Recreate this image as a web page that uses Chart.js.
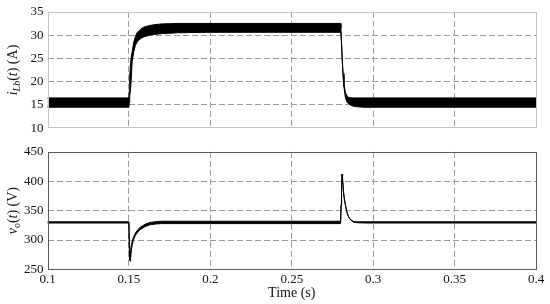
<!DOCTYPE html>
<html><head><meta charset="utf-8">
<script src="https://cdn.jsdelivr.net/npm/chart.js@4/dist/chart.umd.min.js"></script>
<style>
html,body{margin:0;padding:0;background:#fff;}
#wrap{position:relative;width:550px;height:304px;background:#fff;}
canvas{position:absolute;left:0;}
</style></head><body>
<div id="wrap">
<canvas id="c1" width="550" height="140" style="top:0;width:550px;height:140px"></canvas>
<canvas id="c2" width="550" height="164" style="top:140px;width:550px;height:164px"></canvas>
</div>
<script>
// ---- tick labels ----
const xTicks = [0.1, 0.15, 0.2, 0.25, 0.3, 0.35, 0.4];
const xTickLabels = ['0.1', '0.15', '0.2', '0.25', '0.3', '0.35', '0.4'];
const iTicks = [10, 15, 20, 25, 30, 35];
const iTickLabels = ['10', '15', '20', '25', '30', '35'];
const vTicks = [250, 300, 350, 400, 450];
const vTickLabels = ['250', '300', '350', '400', '450'];

// ---- inductor current i_Lb(t): ripple band (upper / lower envelope) ----
const tI = [0.1, 0.15, 0.1502, 0.1505, 0.151, 0.1515, 0.152, 0.153, 0.154, 0.155, 0.157, 0.159, 0.162, 0.165, 0.17, 0.175, 0.18, 0.2, 0.25, 0.28, 0.2802, 0.2806, 0.281, 0.2815, 0.282, 0.283, 0.284, 0.285, 0.287, 0.29, 0.295, 0.3, 0.4];
const iUpper = [16.5, 16.5, 18, 21, 24, 25.5, 26.5, 28.5, 29.7, 30.5, 31.2, 31.7, 32.0, 32.2, 32.4, 32.45, 32.5, 32.5, 32.5, 32.5, 31.4, 28.4, 25.0, 21.8, 19.6, 17.6, 16.9, 16.6, 16.5, 16.5, 16.5, 16.5, 16.5];
const iLower = [14.5, 14.5, 15.5, 17, 18.3, 21, 24.4, 26.5, 27.8, 28.5, 29.2, 29.6, 29.9, 30.1, 30.3, 30.4, 30.5, 30.6, 30.6, 30.6, 30.4, 27.9, 24.5, 21.3, 19.0, 16.4, 15.6, 15.2, 14.8, 14.6, 14.5, 14.5, 14.5];

// ---- output voltage v_o(t): upper / lower envelope ----
const tV = [0.1, 0.15, 0.1503, 0.1505, 0.1508, 0.151, 0.1515, 0.152, 0.153, 0.154, 0.155, 0.157, 0.16, 0.163, 0.167, 0.17, 0.175, 0.2, 0.25, 0.28, 0.2803, 0.2806, 0.2809, 0.2812, 0.2818, 0.2824, 0.283, 0.284, 0.285, 0.286, 0.288, 0.29, 0.295, 0.3, 0.4];
const vUpper = [331, 331, 290, 275, 272, 277, 290, 298, 306, 312, 316, 322, 327, 330, 331.5, 332, 332, 332, 332, 332, 360, 395, 412, 404, 381, 368, 359, 346, 339, 335, 331.5, 331, 331, 331, 331];
const vLower = [329, 329, 280, 266, 264, 268, 283, 292, 302, 308, 312, 318, 323, 326, 327.5, 328, 328, 328, 328, 328, 360, 395, 412, 404, 381, 368, 359, 346, 339, 334.5, 330.5, 329.5, 329, 329, 329];

const FONT = '"Liberation Serif", "Times New Roman", serif';
const AREA_LEFT = 47.5;

function pts(xs, ys) { return xs.map((x, i) => ({ x: x, y: ys[i] })); }

const frameAndTitle = {
  id: 'frameAndTitle',
  afterDraw(chart, args, opts) {
    const ctx = chart.ctx, a = chart.chartArea;
    ctx.save();
    ctx.strokeStyle = opts.frameColor;
    ctx.lineWidth = 1;
    ctx.strokeRect(Math.round(a.left) + 0.5, Math.round(a.top) + 0.5, Math.round(a.right - a.left) - 1, Math.round(a.bottom - a.top) - 1);
    // rich y-axis title
    const parts = opts.parts || [];
    let total = 0;
    const fontOf = p => (p.italic ? 'italic ' : '') + (p.sub ? 10 : 14) + 'px ' + FONT;
    parts.forEach(p => { ctx.font = fontOf(p); p._w = ctx.measureText(p.text).width; total += p._w; });
    ctx.translate(12, (a.top + a.bottom) / 2);
    ctx.rotate(-Math.PI / 2);
    ctx.fillStyle = '#111';
    ctx.textBaseline = 'alphabetic';
    let x = -total / 2;
    parts.forEach(p => { ctx.font = fontOf(p); ctx.fillText(p.text, x, p.sub ? 8 : 5); x += p._w; });
    ctx.restore();
  }
};

function gridColor(c) {
  const s = c.scale;
  if (!c.tick) return '#9a9a9a';
  const v = c.tick.value;
  if (Math.abs(v - s.min) < 1e-9 || Math.abs(v - s.max) < 1e-9) return 'rgba(0,0,0,0)';
  return '#9a9a9a';
}

function makeXScale(showTicks) {
  return {
    type: 'linear', min: 0.1, max: 0.4,
    afterBuildTicks: s => { s.ticks = xTicks.map(v => ({ value: v })); },
    afterFit: s => { s.height = showTicks ? 34.5 : 6; },
    border: { display: false, dash: [6, 3] },
    grid: { color: gridColor, lineWidth: 1, drawTicks: false },
    ticks: {
      display: showTicks, padding: 2, color: '#111', maxRotation: 0, autoSkip: false,
      font: { family: FONT, size: 13 },
      callback: (v, i) => xTickLabels[i]
    },
    title: showTicks ? { display: true, text: 'Time (s)', color: '#111', font: { family: FONT, size: 14 }, padding: { top: 0, bottom: 2 } } : { display: false }
  };
}

function makeYScale(min, max, ticks, labels) {
  return {
    type: 'linear', min: min, max: max,
    afterBuildTicks: s => { s.ticks = ticks.map(v => ({ value: v })); },
    afterFit: s => { s.width = AREA_LEFT; },
    border: { display: false, dash: [6, 3] },
    grid: { color: gridColor, lineWidth: 1, drawTicks: false },
    ticks: {
      padding: 4, color: '#111', autoSkip: false,
      font: { family: FONT, size: 13 },
      callback: (v, i) => labels[i]
    }
  };
}

function bandDatasets(xs, lo, hi) {
  return [
    { data: pts(xs, lo), borderColor: '#000', borderWidth: 1, pointRadius: 0, fill: false, tension: 0 },
    { data: pts(xs, hi), borderColor: '#000', borderWidth: 1, pointRadius: 0, fill: '-1', backgroundColor: '#000', tension: 0 }
  ];
}

const common = {
  responsive: false, animation: false, devicePixelRatio: 1,
  elements: { line: { borderJoinStyle: 'round', borderCapStyle: 'round' } }
};

Chart.register(frameAndTitle);

new Chart(document.getElementById('c1'), {
  type: 'line',
  data: { datasets: bandDatasets(tI, iLower, iUpper) },
  options: Object.assign({}, common, {
    layout: { padding: { left: 0, right: 14, top: 11, bottom: 0 } },
    scales: {
      x: makeXScale(false),
      y: makeYScale(10, 35, iTicks, iTickLabels)
    },
    plugins: {
      legend: { display: false }, tooltip: { enabled: false },
      frameAndTitle: { frameColor: '#c4c4c4', parts: [
        { text: 'i', italic: true }, { text: 'Lb', italic: true, sub: true },
        { text: '(' }, { text: 't', italic: true }, { text: ') (A)' }
      ] }
    }
  })
});

new Chart(document.getElementById('c2'), {
  type: 'line',
  data: { datasets: bandDatasets(tV, vLower, vUpper) },
  options: Object.assign({}, common, {
    layout: { padding: { left: 0, right: 14, top: 8, bottom: 0 } },
    scales: {
      x: makeXScale(true),
      y: makeYScale(250, 450, vTicks, vTickLabels)
    },
    plugins: {
      legend: { display: false }, tooltip: { enabled: false },
      frameAndTitle: { frameColor: '#5a5a5a', parts: [
        { text: 'v', italic: true }, { text: 'o', sub: true },
        { text: '(' }, { text: 't', italic: true }, { text: ') (V)' }
      ] }
    }
  })
});
</script>
</body></html>
